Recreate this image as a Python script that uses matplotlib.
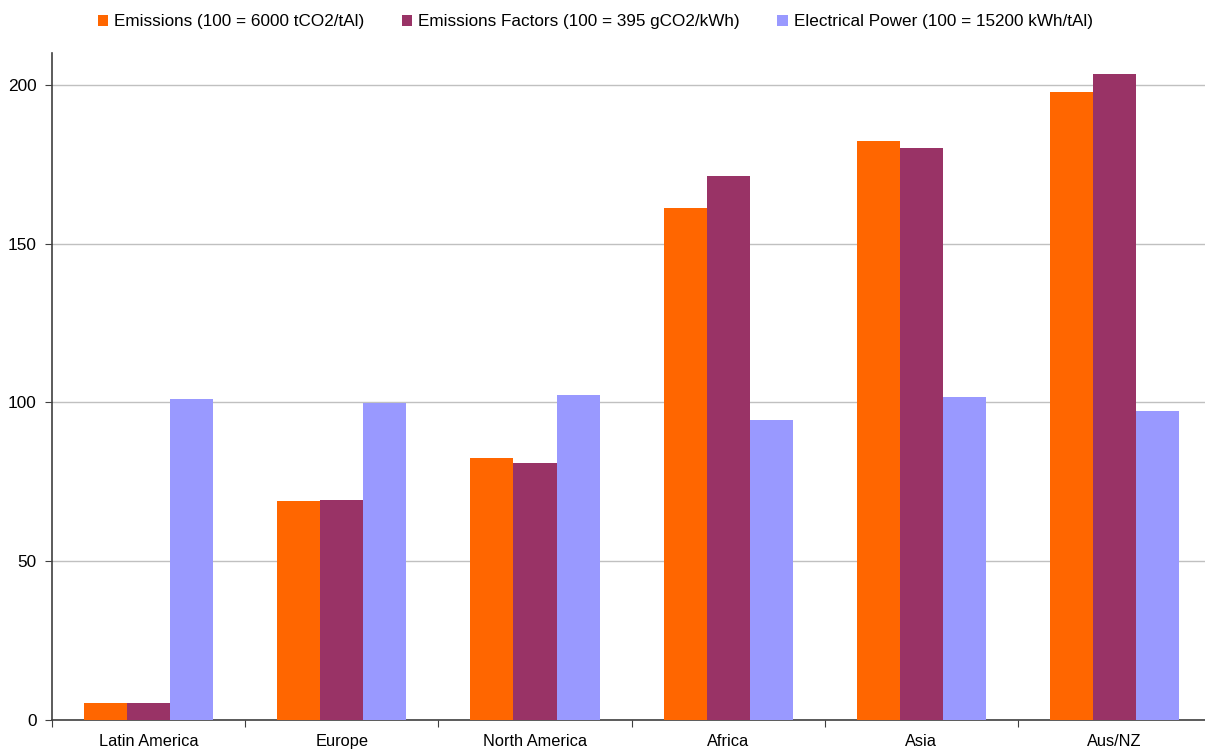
import matplotlib
matplotlib.use('Agg')
import matplotlib.pyplot as plt
import numpy as np

plt.rcParams['font.family'] = ['Liberation Sans', 'DejaVu Sans']
plt.rcParams['font.size'] = 12

# regions and indexed values (100 = reference level)
regions = ['Latin America', 'Europe', 'North America', 'Africa', 'Asia', 'Aus/NZ']
emissions = [5.3, 68.9, 82.6, 161.3, 182.4, 197.8]
emission_factors = [5.3, 69.2, 81.0, 171.4, 180.2, 203.5]
electrical_power = [101.0, 99.7, 102.2, 94.3, 101.6, 97.2]

series_labels = ['Emissions (100 = 6000 tCO2/tAl)',
                 'Emissions Factors (100 = 395 gCO2/kWh)',
                 'Electrical Power (100 = 15200 kWh/tAl)']

COLOR_EM = '#FF6600'
COLOR_EF = '#993366'
COLOR_EP = '#9999FF'

fig = plt.figure(figsize=(12.05, 7.51), dpi=100)
ax = fig.add_axes([52 / 1205, 31 / 751, 6 * 193.2 / 1205, 667 / 751])

x = np.arange(len(regions))
width = 0.223

b1 = ax.bar(x - width, emissions, width, color=COLOR_EM, label=series_labels[0], zorder=3)
b2 = ax.bar(x, emission_factors, width, color=COLOR_EF, label=series_labels[1], zorder=3)
b3 = ax.bar(x + width, electrical_power, width, color=COLOR_EP, label=series_labels[2], zorder=3)

ax.set_xlim(-0.5, len(regions) - 0.5)
ax.set_ylim(0, 210)
ax.set_yticks([0, 50, 100, 150, 200])
ax.yaxis.grid(True, color='#C0C0C0', linewidth=1, zorder=0)

# category boundary ticks, labels centered
ax.set_xticks(np.arange(len(regions) + 1) - 0.5)
ax.set_xticklabels([])
ax.set_xticks(x, minor=True)
ax.set_xticklabels(regions, minor=True, fontsize=11.8)
ax.tick_params(axis='x', which='minor', length=0, pad=10)
ax.tick_params(axis='x', which='major', length=5, direction='out', color='#404040')
ax.tick_params(axis='y', length=5, direction='out', color='#404040', pad=6, labelsize=12.4)

for side in ['top', 'right']:
    ax.spines[side].set_visible(False)
for side in ['left', 'bottom']:
    ax.spines[side].set_color('#404040')
    ax.spines[side].set_linewidth(1.2)

fig.legend(handles=[b1, b2, b3], loc='center', bbox_to_anchor=(0.494, 0.971),
           ncol=3, frameon=False, handlelength=0.6, handleheight=0.6,
           handletextpad=0.35, columnspacing=2.2, fontsize=12.3)

plt.savefig('out.png', dpi=100)
plt.close()
